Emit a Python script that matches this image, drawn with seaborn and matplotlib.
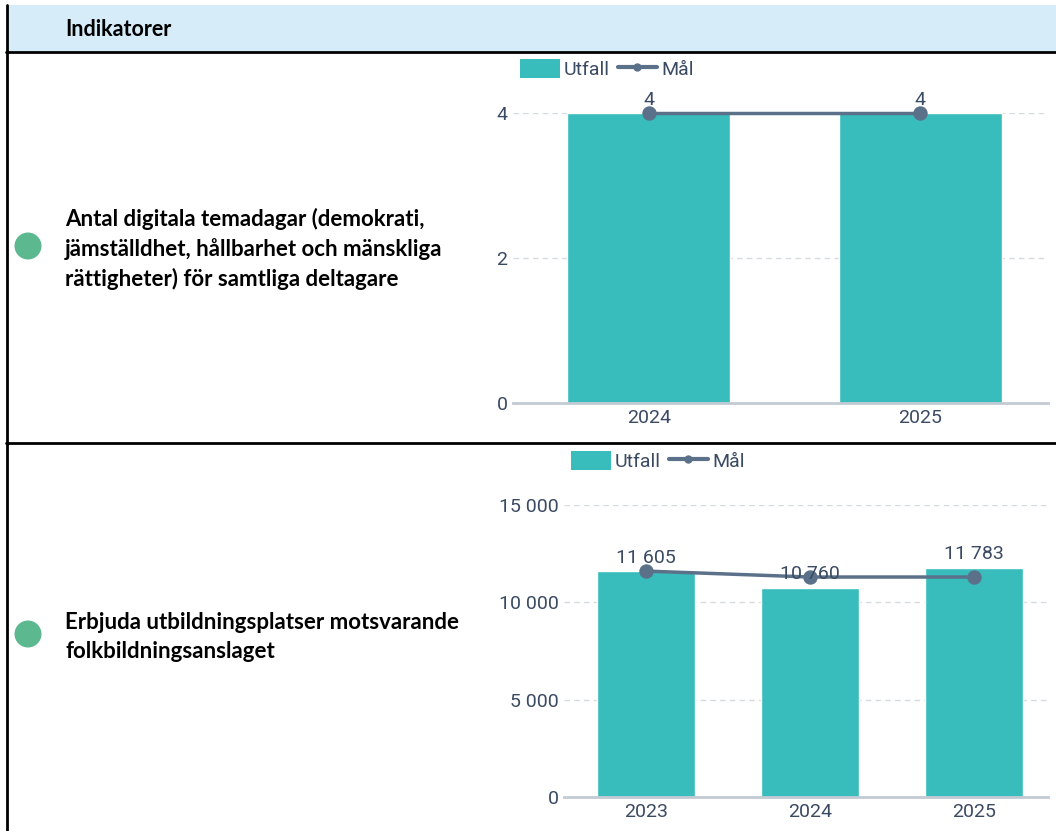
import matplotlib
matplotlib.use("Agg")
import matplotlib.pyplot as plt
import seaborn as sns
from matplotlib.patches import Rectangle, Ellipse, Patch
from matplotlib.lines import Line2D

# ---------------- data ----------------
header_text = "Indikatorer"

ind1_label = "Antal digitala temadagar (demokrati,\njämställdhet, hållbarhet och mänskliga\nrättigheter) för samtliga deltagare"
ind1_years = ["2024", "2025"]
ind1_utfall = [4, 4]
ind1_mal = [4, 4]
ind1_yticks = [0, 2, 4]

ind2_label = "Erbjuda utbildningsplatser motsvarande\nfolkbildningsanslaget"
ind2_years = ["2023", "2024", "2025"]
ind2_utfall = [11605, 10760, 11783]
ind2_mal = [11605, 11300, 11300]
ind2_yticks = [0, 5000, 10000, 15000]

# ---------------- style ----------------
W, H = 1056, 831
BAR = "#38bcbc"
LINE = "#5b7189"
TXT = "#3b4a63"
GRID = "#d5dbe2"
AXL = "#c2cad3"
DOT = "#5cb88f"
FS = 14

sns.set_theme(style="white")
plt.rcParams["font.family"] = ["Roboto", "DejaVu Sans"]

fig = plt.figure(figsize=(W / 100, H / 100), dpi=100)


def fx(x):
    return x / W


def fy(y):
    return 1 - y / H


# table background
fig.patches.append(Rectangle((fx(7), fy(52)), fx(W - 7), (52 - 5) / H,
                             transform=fig.transFigure, facecolor="#d6ecf8",
                             edgecolor="none", zorder=0))
for yy in (52, 443):
    fig.add_artist(Line2D([fx(6), 1], [fy(yy), fy(yy)], transform=fig.transFigure,
                          color="black", lw=2))
fig.add_artist(Line2D([fx(7), fx(7)], [fy(5), 0], transform=fig.transFigure,
                      color="black", lw=2))
fig.text(fx(65), fy(30), header_text, fontsize=15.5, fontweight="bold",
         family=["Lato", "DejaVu Sans"], va="center", ha="left", color="black")

# left labels and dots
for (cy, label) in ((246, ind1_label), (634, ind2_label)):
    fig.patches.append(Ellipse((fx(28), fy(cy)), 27 / W, 27 / H,
                               transform=fig.transFigure,
                               facecolor=DOT, edgecolor="none"))
    fig.text(fx(65), fy(cy + 3), label, fontsize=16, fontweight="bold",
             family=["Lato", "DejaVu Sans"], va="center", ha="left",
             color="black", linespacing=1.45)


def fmt(v):
    return f"{v:,}".replace(",", " ")


def make_chart(left, right, top, bottom, years, utfall, mal, yticks, xlim,
               leg_xy):
    ax = fig.add_axes([fx(left), fy(bottom), (right - left) / W, (bottom - top) / H])
    sns.barplot(x=years, y=utfall, color=BAR, width=0.6, saturation=1, ax=ax,
                zorder=2)
    sns.pointplot(x=years, y=mal, color=LINE, markers="o", markersize=8.5,
                  linewidth=2.5, ax=ax, zorder=4)
    for coll in ax.collections:
        coll.set_clip_on(False)
    for ln in ax.lines:
        ln.set_clip_on(False)
    ax.set_ylim(0, yticks[-1])
    ax.set_xlim(*xlim)
    ax.set_yticks(yticks)
    ax.set_yticklabels([fmt(t) for t in yticks])
    for t in yticks[1:]:
        ax.axhline(t, color=GRID, lw=1, ls=(0, (4, 3)), zorder=1)
    for s in ("top", "right", "left"):
        ax.spines[s].set_visible(False)
    ax.spines["bottom"].set_color(AXL)
    ax.spines["bottom"].set_linewidth(2)
    ax.tick_params(axis="both", length=0, colors=TXT, labelsize=FS)
    ax.tick_params(axis="x", pad=4)
    ax.tick_params(axis="y", pad=4)
    ax.set_xlabel("")
    ax.set_ylabel("")
    for i, v in enumerate(utfall):
        ax.annotate(fmt(v), (i, v), xytext=(0, 3), textcoords="offset points",
                    ha="center", va="bottom", fontsize=FS, color=TXT,
                    annotation_clip=False, zorder=5)
    handles = [Patch(facecolor=BAR, edgecolor="none", label="Utfall"),
               Line2D([0], [0], color=LINE, lw=3, marker="o", markersize=5,
                      label="Mål")]
    ax.legend(handles=handles, loc="center left",
              bbox_to_anchor=(fx(leg_xy[0]), fy(leg_xy[1])),
              bbox_transform=fig.transFigure, ncol=2, frameon=False,
              fontsize=FS, handlelength=2.05, handleheight=1.15,
              handletextpad=0.2, columnspacing=0.4, borderpad=0,
              borderaxespad=0, labelcolor=TXT)
    return ax


make_chart(513, 1048, 113, 403, ind1_years, ind1_utfall, ind1_mal, ind1_yticks,
           (-0.5, 1.47), (520, 69))
make_chart(564, 1048, 505, 797, ind2_years, ind2_utfall, ind2_mal, ind2_yticks,
           (-0.5, 2.45), (571, 461))

fig.savefig("out.png", dpi=100)
